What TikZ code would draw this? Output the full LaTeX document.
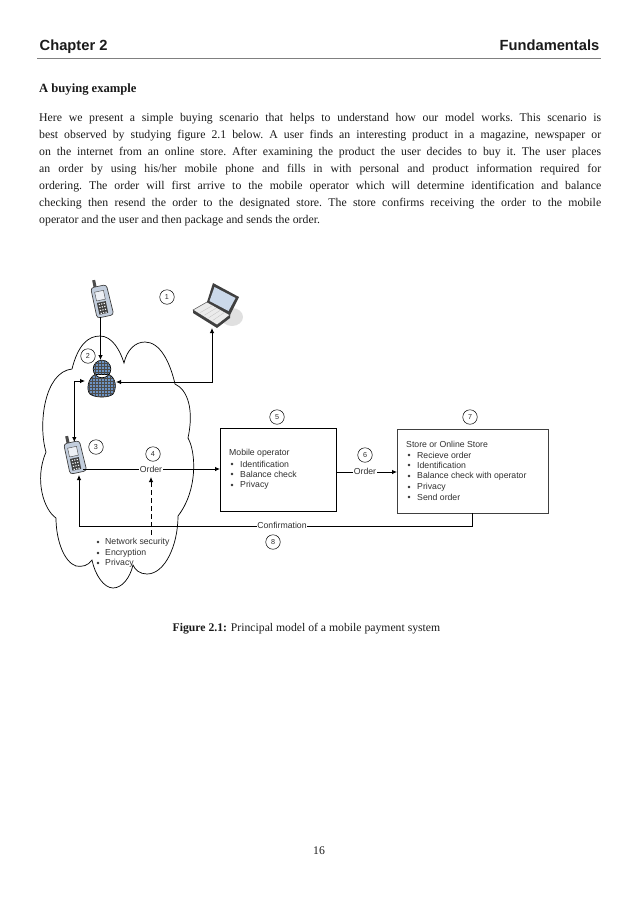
\documentclass[tikz,border=0pt]{standalone}
\usepackage{fontspec}
\setmainfont{Liberation Serif}
\setsansfont{Liberation Sans}
\usetikzlibrary{arrows.meta,calc}
\definecolor{ink}{HTML}{1A1A1A}
\definecolor{soft}{HTML}{303030}
\definecolor{persona}{HTML}{6C93C4}
\definecolor{phonebody}{HTML}{C3CEDD}
\tikzset{
  conn/.style={draw=black,line width=0.8pt},
  tip/.style={-{Latex[length=5pt,width=4.5pt]}},
  tips/.style={{Latex[length=5pt,width=4.5pt]}-{Latex[length=5pt,width=4.5pt]}},
  lbl/.style={fill=white,inner sep=0.4pt,font=\sffamily\fontsize{8.7}{10}\selectfont,text=soft},
  num/.style={circle,draw=black,line width=0.5pt,fill=white,minimum size=14.5pt,inner sep=0pt,font=\sffamily\fontsize{7.2}{8}\selectfont,text=soft},
  boxnode/.style={draw=black,line width=0.8pt,fill=white,anchor=north west,inner sep=0pt},
  listtxt/.style={anchor=west,inner sep=0pt,font=\sffamily\fontsize{8.7}{10}\selectfont,text=soft},
  bodytxt/.style={anchor=north west,inner sep=0pt,text width=562pt,align=justify,font=\fontsize{11.8}{17}\selectfont\frenchspacing,text=ink},
}
\newcommand{\phoneicon}[3]{%
\begin{scope}[shift={(#1,#2)},rotate=#3]
  \fill[black!70] (-5,-19) rectangle (-2,-10);
  \fill[phonebody,draw=black!75,line width=0.7pt,rounded corners=3pt] (-8,-12) -- (8,-12) -- (9,19) -- (-8,19) -- cycle;
  \fill[white!70!phonebody,draw=black!75,line width=0.4pt] (-5,-7) rectangle (4,2);
  \fill[black!75] (-5,4) rectangle (4,16);
  \foreach \a in {-3,-0.5,2} \foreach \b in {6,9,12,15} \fill[white!80!phonebody] (\a-0.6,\b-0.6) rectangle (\a+0.6,\b+0.6);
\end{scope}}
\begin{document}
\begin{tikzpicture}[x=1pt,y=-1pt]
\useasboundingbox (0,0) rectangle (638,903);
% header
\node[anchor=base west,inner sep=0pt,font=\sffamily\bfseries\fontsize{14.7}{16}\selectfont,text=ink] (chap) at (39.5,50) {Chapter 2};
\node[anchor=base east,inner sep=0pt,font=\sffamily\bfseries\fontsize{14.7}{16}\selectfont,text=ink] (fund) at (599.5,50) {Fundamentals};
\draw[draw=black!50,line width=1pt] (37,58.5) -- (601,58.5);
\node[anchor=base west,inner sep=0pt,font=\bfseries\fontsize{12.6}{14}\selectfont,text=ink] (sect) at (39,92) {A buying example};
\node[bodytxt] (body) at (39,113.5) {Here we present a simple buying scenario that helps to understand how our model works. This scenario is\linebreak
best observed by studying figure 2.1 below. A user finds an interesting product in a magazine, newspaper or\linebreak
on the internet from an online store. After examining the product the user decides to buy it. The user places\linebreak
an order by using his/her mobile phone and fills in with personal and product information required for\linebreak
ordering. The order will first arrive to the mobile operator which will determine identification and balance\linebreak
checking then resend the order to the designated store. The store confirms receiving the order to the mobile\linebreak
operator and the user and then package and sends the order.};
% cloud
\draw[black,line width=0.7pt] (72,369)
  .. controls (78,345) and (88,336) .. (100,336)
  .. controls (112,336) and (120,350) .. (124,363)
  .. controls (127,350) and (135,342) .. (145,342)
  .. controls (160,342) and (170,362) .. (175,384)
  .. controls (188,390) and (194,410) .. (188,438)
  .. controls (196,452) and (198,490) .. (178,516)
  .. controls (178,545) and (165,574) .. (147,574)
  .. controls (140,574) and (135,570) .. (133,565)
  .. controls (130,578) and (122,588) .. (113,588)
  .. controls (104,588) and (95,575) .. (92,560)
  .. controls (88,566) and (82,567) .. (76,566)
  .. controls (64,562) and (56,540) .. (56,518)
  .. controls (44,510) and (34,480) .. (46,452)
  .. controls (38,425) and (44,372) .. (72,369);
% laptop
\fill[black!12] (232,317) ellipse (11 and 9);
\fill[white!92!black,draw=black!70,line width=0.5pt] (193,310) -- (207,302) -- (230,315) -- (217,325) -- cycle;
\fill[black!75] (193,310) -- (217,325) -- (230,315) -- (230,318) -- (217,328) -- (193,313) -- cycle;
\foreach \t in {0.2,0.4,0.6,0.8} \draw[black!25,line width=0.3pt] ($(196,310)!\t!(217,323)$) -- ($(209,303)!\t!(228,315)$);
\fill[black!75] (213,283) -- (239,297) -- (230,315) -- (207,302) -- cycle;
\fill[persona!35] (214.5,287) -- (235.5,298) -- (228.5,311) -- (209.5,301) -- cycle;
\coordinate (laptop) at (212,328);
% phones
\phoneicon{101}{298}{12}
\coordinate (phoneA) at (100.5,317);
\phoneicon{74}{454}{12}
\coordinate (phoneBtop) at (74.3,442);
\coordinate (phoneBr) at (83,469);
\coordinate (phoneBb) at (79,475);
% person
\begin{scope}
\path[save path=\personpath] (102,369) circle (8.8)
  (95,374.5) .. controls (88,378) and (86,390) .. (90,394) .. controls (95,398) and (109,398) .. (113,394) .. controls (117,388) and (116,378) .. (109,374.5) -- cycle;
\fill[persona,draw=black,line width=0.7pt,use path=\personpath];
\clip[use path=\personpath];
\foreach \i in {86,89,...,118} \draw[black!70,line width=0.25pt] (\i,358) -- (\i,400);
\foreach \j in {360,363,...,398} \draw[black!70,line width=0.25pt] (85,\j) -- (118,\j);
\end{scope}
\coordinate (personT) at (100.5,360);
\coordinate (personR) at (116,382);
\coordinate (personL) at (85,381);
% boxes
\node[boxnode,minimum width=116pt,minimum height=83pt] (mob) at (220,428) {};
\node[boxnode,draw=black!75,minimum width=151pt,minimum height=84pt] (store) at (397,429) {};
% connectors
\draw[conn,tip] (phoneA) -- (personT);
\draw[conn,tips] (laptop) |- (personR);
\draw[conn,tips] (personL) -| (phoneBtop);
\draw[conn,tip] (phoneBr) -- (phoneBr -| mob.west);
\draw[conn,tip] (mob.east |- 0,472) -- (store.west |- 0,472);
\coordinate (storeB) at (472,513);
\draw[conn,tip] (storeB) |- (phoneBb |- 0,526) -- (phoneBb);
\coordinate (dashA) at (151,535);
\coordinate (dashB) at (151,477);
\draw[conn,dashed,tip,dash pattern=on 5pt off 3pt] (dashA) -- (dashB);
% labels on lines
\node[lbl] (o4) at (151,469) {Order};
\node[lbl] (o6) at (365,471) {Order};
\node[lbl] (conf) at (282,525) {Confirmation};
% numbers
\node[num] (n1) at (167,297) {1};
\node[num] (n2) at (88,356) {2};
\node[num] (n3) at (96,447) {3};
\node[num] (n4) at (153,454) {4};
\node[num] (n5) at (277,417) {5};
\node[num] (n6) at (365,455) {6};
\node[num] (n7) at (470,417) {7};
\node[num] (n8) at (273,542) {8};
% mobile operator text
\node[listtxt] (m0) at (229,453) {Mobile operator};
\foreach \y/\t/\n in {464/Identification/m1,474/Balance check/m2,485/Privacy/m3} {
  \fill[soft] (232,\y) circle (1.3);
  \node[listtxt] (\n) at (240,\y) {\t};
}
% store text
\node[listtxt] (s0) at (406,444) {Store or Online Store};
\foreach \y/\t/\n in {455/Recieve order/s1,465/Identification/s2,476/Balance check with operator/s3,487/Privacy/s4,497/Send order/s5} {
  \fill[soft] (409,\y) circle (1.3);
  \node[listtxt] (\n) at (417,\y) {\t};
}
% cloud list
\foreach \y/\t/\n in {542/Network security/c1,553/Encryption/c2,563/Privacy/c3} {
  \fill[soft] (98,\y) circle (1.3);
  \node[listtxt] (\n) at (105,\y) {\t};
}
% caption and page number
\node[anchor=base west,inner sep=0pt,font=\fontsize{11.7}{14}\selectfont,text=ink] (cap) at (172.5,631) {\textbf{Figure 2.1:} Principal model of a mobile payment system};
\node[anchor=base,inner sep=0pt,font=\fontsize{11.7}{14}\selectfont,text=ink] (pg) at (319,854) {16};
\end{tikzpicture}
\end{document}
